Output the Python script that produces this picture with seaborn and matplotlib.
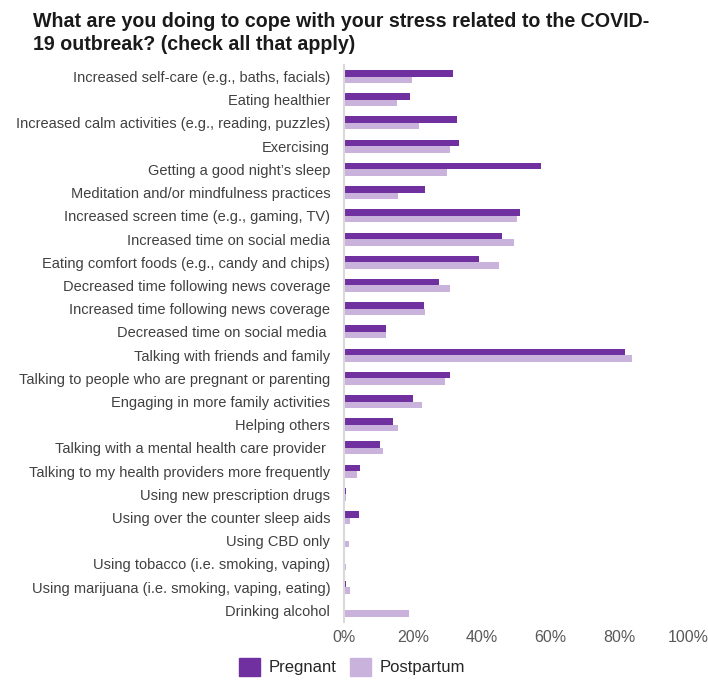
import pandas as pd
import numpy as np
import matplotlib
matplotlib.use('Agg')
import matplotlib.pyplot as plt
import seaborn as sns

# 데이터
categories = [
    'Increased self-care (e.g., baths, facials)',
    'Eating healthier',
    'Increased calm activities (e.g., reading, puzzles)',
    'Exercising',
    'Getting a good night\u2019s sleep',
    'Meditation and/or mindfulness practices',
    'Increased screen time (e.g., gaming, TV)',
    'Increased time on social media',
    'Eating comfort foods (e.g., candy and chips)',
    'Decreased time following news coverage',
    'Increased time following news coverage',
    'Decreased time on social media ',
    'Talking with friends and family',
    'Talking to people who are pregnant or parenting',
    'Engaging in more family activities',
    'Helping others',
    'Talking with a mental health care provider ',
    'Talking to my health providers more frequently',
    'Using new prescription drugs',
    'Using over the counter sleep aids',
    'Using CBD only',
    'Using tobacco (i.e. smoking, vaping)',
    'Using marijuana (i.e. smoking, vaping, eating)',
    'Drinking alcohol',
]
pregnant = [31.6, 19.2, 32.9, 33.3, 57.3, 23.6, 51.1, 45.8, 39.1, 27.6, 23.3, 12.1,
            81.6, 30.7, 20.1, 14.3, 10.4, 4.6, 0.7, 4.2, 0.0, 0.0, 0.6, 0.0]
postpartum = [19.7, 15.3, 21.9, 30.7, 29.8, 15.7, 50.2, 49.3, 44.9, 30.7, 23.6, 12.1,
              83.7, 29.4, 22.7, 15.6, 11.2, 3.7, 0.5, 1.8, 1.5, 0.6, 1.6, 18.8]
groups = ['Pregnant', 'Postpartum']
colors = ['#7030A0', '#C9B2DC']
x_ticks = [0, 20, 40, 60, 80, 100]

df = pd.DataFrame({'category': categories * 2,
                   'value': pregnant + postpartum,
                   'group': [groups[0]] * len(categories) + [groups[1]] * len(categories)})

sns.set_style('white')
plt.rcParams['font.family'] = ['Liberation Sans', 'DejaVu Sans']

fig = plt.figure(figsize=(7.08, 6.81), dpi=100)
ax = fig.add_axes([0.486, 0.0866, 0.486, 0.818])

sns.barplot(data=df, y='category', x='value', hue='group', orient='h',
            palette=colors, width=0.56, saturation=1, linewidth=0, ax=ax, legend=False)

ax.set_xlim(0, 100)
ax.set_xticks(x_ticks)
ax.set_xticklabels([f'{t}%' for t in x_ticks], fontsize=11.5, color='#595959')
ax.tick_params(axis='y', labelsize=10.5, labelcolor='#404040', length=0, pad=10)
ax.tick_params(axis='x', length=0, pad=6)
ax.set_xlabel('')
ax.set_ylabel('')
for s in ['top', 'right', 'bottom']:
    ax.spines[s].set_visible(False)
ax.spines['left'].set_color('#D9D9D9')
ax.spines['left'].set_linewidth(1.5)

fig.text(0.047, 0.982, 'What are you doing to cope with your stress related to the COVID-\n19 outbreak? (check all that apply)',
         ha='left', va='top', fontsize=14.1, fontweight='bold', color='#1a1a1a', linespacing=1.25)

handles = [plt.Rectangle((0, 0), 1, 1, color=c) for c in colors]
fig.legend(handles, groups, loc='center', bbox_to_anchor=(0.497, 0.021), ncol=2, frameon=False,
           fontsize=12, handlelength=1.3, handleheight=1.3, handletextpad=0.5, columnspacing=0.8)

fig.savefig('out.png', dpi=100)
